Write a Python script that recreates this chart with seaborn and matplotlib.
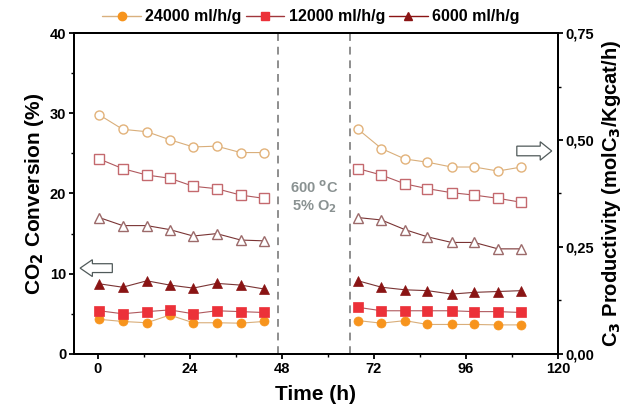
import matplotlib
matplotlib.use('Agg')
import matplotlib.pyplot as plt
import seaborn as sns
import numpy as np
import pandas as pd
from matplotlib.ticker import MultipleLocator, FuncFormatter
from matplotlib.lines import Line2D
from matplotlib.patches import FancyArrow

# Время (ч): до и после регенерации
time_h = [0.4, 6.5, 12.8, 18.8, 24.9, 31.0, 37.3, 43.3,
          67.9, 74.0, 80.1, 86.0, 92.3, 98.2, 104.4, 110.5]
segment = ['before'] * 8 + ['after'] * 8

# Конверсия CO2 (%) - открытые маркеры, левая ось
conv_24000 = [29.8, 28.0, 27.7, 26.7, 25.8, 25.9, 25.1, 25.1,
              28.0, 25.6, 24.3, 23.9, 23.3, 23.3, 22.8, 23.3]
conv_12000 = [24.3, 23.1, 22.3, 21.9, 20.9, 20.6, 19.8, 19.4,
              23.1, 22.3, 21.2, 20.6, 20.1, 19.8, 19.4, 18.9]
conv_6000 = [17.0, 16.0, 16.0, 15.5, 14.7, 15.0, 14.2, 14.1,
             17.0, 16.7, 15.5, 14.6, 13.9, 13.9, 13.1, 13.1]

# Продуктивность C3 - закрашенные маркеры, правая ось
prod_24000 = [0.081, 0.076, 0.073, 0.091, 0.073, 0.073, 0.072, 0.076,
              0.078, 0.072, 0.078, 0.069, 0.069, 0.069, 0.068, 0.068]
prod_12000 = [0.101, 0.094, 0.099, 0.103, 0.094, 0.101, 0.099, 0.097,
              0.109, 0.101, 0.101, 0.101, 0.101, 0.099, 0.099, 0.097]
prod_6000 = [0.164, 0.156, 0.171, 0.161, 0.154, 0.165, 0.161, 0.152,
             0.171, 0.156, 0.150, 0.148, 0.140, 0.144, 0.146, 0.148]

series_labels = ['24000 ml/h/g', '12000 ml/h/g', '6000 ml/h/g']
break_times = [47.0, 65.8]

sns.set_style('ticks')
plt.rcParams['font.family'] = ['Liberation Sans', 'DejaVu Sans']
plt.rcParams['font.weight'] = 'bold'
plt.rcParams['mathtext.default'] = 'bf'
for k in ['text.color', 'axes.labelcolor', 'xtick.color', 'ytick.color']:
    plt.rcParams[k] = 'black'

df = pd.DataFrame({'time': time_h, 'segment': segment,
                   'conv_24000': conv_24000, 'conv_12000': conv_12000, 'conv_6000': conv_6000,
                   'prod_24000': prod_24000, 'prod_12000': prod_12000, 'prod_6000': prod_6000})

styles = {
    '24000': dict(marker='o', fill='#F7941D', open_edge='#E2B27A', line='#D9AE7A', leg_line='#D9B07E'),
    '12000': dict(marker='s', fill='#EC3139', open_edge='#C4696E', line='#B0595E', leg_line='#A0373C'),
    '6000': dict(marker='^', fill='#8A1414', open_edge='#9C6A6A', line='#7A3434', leg_line='#8A1414'),
}

fig = plt.figure(figsize=(6.35, 4.11), dpi=100)
ax = fig.add_axes([0.1165, 0.1387, 0.762, 0.781])
ax2 = ax.twinx()

for key, st in styles.items():
    for seg in ['before', 'after']:
        d = df[df['segment'] == seg]
        sns.lineplot(x=d['time'], y=d['conv_' + key], ax=ax, color=st['line'], lw=0.8,
                     marker=st['marker'], markersize=6.5, markerfacecolor='white',
                     markeredgecolor=st['open_edge'], markeredgewidth=1.0, legend=False)
        sns.lineplot(x=d['time'], y=d['prod_' + key], ax=ax2, color=st['line'], lw=0.8,
                     marker=st['marker'], markersize=6.5, markerfacecolor=st['fill'],
                     markeredgecolor=st['fill'], markeredgewidth=0.5, legend=False)

for bt in break_times:
    ax.axvline(bt, color='#8E8E8E', ls=(0, (4, 3)), lw=1.4, zorder=0)

ax.set_xlim(-6.2, 120)
ax.set_ylim(0, 40)
ax2.set_ylim(0, 0.75)
ax.xaxis.set_major_locator(MultipleLocator(24))
ax.xaxis.set_minor_locator(MultipleLocator(12))
ax.yaxis.set_major_locator(MultipleLocator(10))
ax.yaxis.set_minor_locator(MultipleLocator(5))
ax2.yaxis.set_major_locator(MultipleLocator(0.25))
ax2.yaxis.set_minor_locator(MultipleLocator(0.125))
ax2.yaxis.set_major_formatter(FuncFormatter(lambda v, p: f'{v:.2f}'.replace('.', ',')))

for a in (ax, ax2):
    for sp in a.spines.values():
        sp.set_linewidth(1.4)
        sp.set_color('black')
    a.tick_params(which='major', direction='out', length=3.5, width=1.3, labelsize=10.5, pad=2,
                  colors='black')
    a.tick_params(which='minor', direction='out', length=2, width=1.0, colors='black')
    a.set_xlabel('')
    a.set_ylabel('')

ax.set_xlabel('Time (h)', fontsize=15, fontweight='bold', labelpad=7)
ax.set_ylabel('CO$_2$ Conversion (%)', fontsize=15, fontweight='bold', labelpad=3)
ax2.set_ylabel('C$_3$ Productivity (molC$_3$/Kgcat/h)', fontsize=14.5, fontweight='bold', labelpad=4)

ax.text(56.4, 20.7, '600 $^{o}$C', color='#8A9292', fontsize=10.5, fontweight='bold', ha='center', va='center')
ax.text(56.4, 18.3, '5% O$_2$', color='#8A9292', fontsize=10.5, fontweight='bold', ha='center', va='center')

# Полые стрелки - указывают на ось
ax.add_patch(FancyArrow(3.8, 10.7, -8.4, 0, width=1.1, head_width=2.1, head_length=3.2,
                        length_includes_head=True, fc='white', ec='#505a5a', lw=0.9, zorder=5))
ax.add_patch(FancyArrow(109.3, 25.3, 9.1, 0, width=1.2, head_width=2.3, head_length=3.0,
                        length_includes_head=True, fc='white', ec='#505a5a', lw=0.9, zorder=5))

handles = [Line2D([0], [0], color=st['leg_line'], lw=1.0, marker=st['marker'], markersize=6,
                  markerfacecolor=st['fill'], markeredgecolor=st['fill'])
           for st in styles.values()]
fig.legend(handles, series_labels, loc='center', bbox_to_anchor=(0.49, 0.959), ncol=3,
           frameon=False, handlelength=2.4, handletextpad=0.3, columnspacing=0.25,
           prop={'weight': 'bold', 'size': 11.5})

fig.savefig('out.png', dpi=100)
